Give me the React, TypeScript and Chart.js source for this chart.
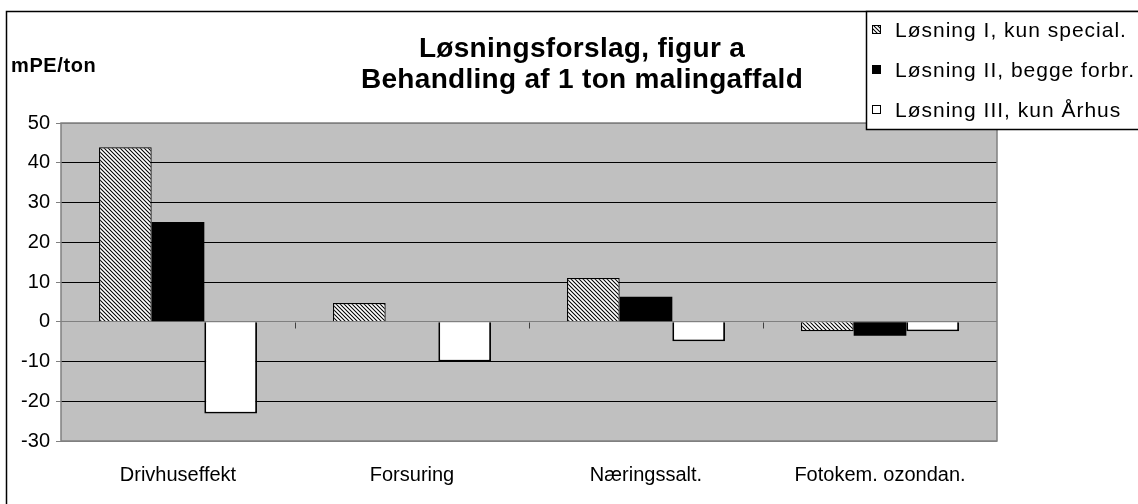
import React, { useEffect, useRef } from 'react';
import { Chart, registerables } from 'chart.js';

Chart.register(...registerables);

const categories = ['Drivhuseffekt', 'Forsuring', 'Næringssalt.', 'Fotokem. ozondan.'];
const seriesLabels = ['Løsning I, kun special.', 'Løsning II, begge forbr.', 'Løsning III, kun Århus'];
const losningI = [43.9, 4.7, 11.0, -2.4];
const losningII = [25.1, 0, 6.3, -3.5];
const losningIII = [-23.1, -10, -4.9, -2.4];
const titleLines = ['Løsningsforslag, figur a', 'Behandling af 1 ton malingaffald'];
const unitLabel = 'mPE/ton';
const yMin = -30;
const yMax = 50;
const yStep = 10;

const FONT = '"Liberation Sans", Arial, sans-serif';
const GRAY = '#808080';
const PLOT_BG = '#C0C0C0';

function makeHatch(): CanvasPattern | string {
  const c = document.createElement('canvas');
  c.width = 4;
  c.height = 4;
  const g = c.getContext('2d');
  if (!g) return '#888';
  g.fillStyle = '#fff';
  g.fillRect(0, 0, 4, 4);
  g.strokeStyle = '#000';
  g.lineWidth = 1.05;
  g.beginPath();
  g.moveTo(-1, -1);
  g.lineTo(5, 5);
  g.moveTo(-1, 3);
  g.lineTo(1, 5);
  g.moveTo(3, -1);
  g.lineTo(5, 1);
  g.stroke();
  const p = g.createPattern(c, 'repeat');
  return p || '#888';
}

export default function App() {
  const ref = useRef<HTMLCanvasElement | null>(null);

  useEffect(() => {
    const canvas = ref.current;
    if (!canvas) return;
    const hatch = makeHatch();
    const fills: any[] = [hatch, '#000000', '#ffffff'];

    const decor = {
      id: 'decor',
      beforeDraw(chart: any) {
        const { ctx, chartArea: a } = chart;
        ctx.save();
        ctx.fillStyle = '#ffffff';
        ctx.fillRect(0, 0, chart.width, chart.height);
        ctx.fillStyle = PLOT_BG;
        ctx.fillRect(a.left, a.top, a.right - a.left, a.bottom - a.top);
        ctx.restore();
      },
      afterDatasetsDraw(chart: any) {
        const { ctx, chartArea: a } = chart;
        const x = chart.scales.x;
        const y = chart.scales.y;
        ctx.save();
        ctx.strokeStyle = GRAY;
        ctx.lineWidth = 1.5;
        ctx.strokeRect(a.left, a.top, a.right - a.left, a.bottom - a.top);
        const y0 = Math.round(y.getPixelForValue(0)) + 0.5;
        ctx.lineWidth = 1;
        ctx.strokeStyle = '#404040';
        ctx.beginPath();
        for (let i = 1; i < categories.length; i++) {
          const px = Math.round((x.getPixelForValue(i - 1) + x.getPixelForValue(i)) / 2) + 0.5;
          ctx.moveTo(px, y0);
          ctx.lineTo(px, y0 + 6);
        }
        ctx.stroke();
        ctx.restore();
      },
      afterDraw(chart: any) {
        const { ctx } = chart;
        ctx.save();
        ctx.strokeStyle = '#000';
        ctx.lineWidth = 1.5;
        ctx.beginPath();
        ctx.moveTo(6.5, chart.height + 5);
        ctx.lineTo(6.5, 11.5);
        ctx.lineTo(chart.width + 5, 11.5);
        ctx.stroke();

        ctx.fillStyle = '#000';
        ctx.textAlign = 'center';
        ctx.textBaseline = 'alphabetic';
        ctx.font = `bold 28px ${FONT}`;
        (ctx as any).letterSpacing = '0.3px';
        ctx.fillText(titleLines[0], 582, 57);
        ctx.fillText(titleLines[1], 582, 88);

        ctx.textAlign = 'left';
        ctx.font = `bold 20px ${FONT}`;
        (ctx as any).letterSpacing = '0.6px';
        ctx.fillText(unitLabel, 11, 72);

        ctx.fillStyle = '#fff';
        ctx.fillRect(866, 11, chart.width - 866 + 5, 118);
        ctx.strokeStyle = '#000';
        ctx.lineWidth = 1.5;
        ctx.strokeRect(866.5, 11.5, chart.width - 866 + 5, 118);
        ctx.font = `21px ${FONT}`;
        (ctx as any).letterSpacing = '1px';
        for (let i = 0; i < seriesLabels.length; i++) {
          const base = 37 + i * 40;
          const my = base - 12;
          ctx.fillStyle = fills[i];
          ctx.fillRect(872, my, 9, 9);
          ctx.strokeStyle = '#000';
          ctx.lineWidth = 1;
          ctx.strokeRect(872.5, my + 0.5, 8, 8);
          ctx.fillStyle = '#000';
          ctx.fillText(seriesLabels[i], 895, base);
        }
        (ctx as any).letterSpacing = '0px';
        ctx.restore();
      },
    };

    const chart = new Chart(canvas, {
      type: 'bar',
      data: {
        labels: categories,
        datasets: [
          {
            label: seriesLabels[0],
            data: losningI,
            backgroundColor: hatch as any,
            borderColor: '#000',
            borderWidth: 1.2,
            barPercentage: 1,
            categoryPercentage: 0.675,
          },
          {
            label: seriesLabels[1],
            data: losningII,
            backgroundColor: '#000',
            borderColor: '#000',
            borderWidth: 0,
            barPercentage: 1,
            categoryPercentage: 0.675,
          },
          {
            label: seriesLabels[2],
            data: losningIII,
            backgroundColor: '#fff',
            borderColor: '#000',
            borderWidth: 1.8,
            barPercentage: 1,
            categoryPercentage: 0.675,
          },
        ],
      },
      options: {
        responsive: false,
        animation: false,
        devicePixelRatio: 1,
        layout: { padding: { left: 0, top: 123, right: 141, bottom: 0 } },
        plugins: {
          legend: { display: false },
          title: { display: false },
          tooltip: { enabled: false },
        },
        scales: {
          x: {
            grid: { display: false },
            border: { display: false },
            ticks: {
              color: '#000',
              font: { family: FONT, size: 20 },
              padding: 14,
              maxRotation: 0,
              autoSkip: false,
            },
            afterFit(scale: any) {
              scale.height = 63;
            },
          },
          y: {
            min: yMin,
            max: yMax,
            border: { display: false },
            grid: {
              color: (c: any) => {
                const v = c.tick && c.tick.value;
                if (v === 0 || v === yMin || v === yMax) return GRAY;
                return '#000';
              },
              lineWidth: 1,
              tickLength: 5,
              tickColor: GRAY,
            },
            ticks: {
              stepSize: yStep,
              color: '#000',
              font: { family: FONT, size: 20 },
              padding: 6,
            },
            afterFit(scale: any) {
              scale.width = 61;
            },
          },
        },
      },
      plugins: [decor],
    } as any);

    return () => {
      chart.destroy();
    };
  }, []);

  return (
    <div style={{ position: 'fixed', left: 0, top: 0, width: 1138, height: 504, background: '#fff' }}>
      <canvas ref={ref} width={1138} height={504} style={{ display: 'block', width: 1138, height: 504 }} />
    </div>
  );
}
